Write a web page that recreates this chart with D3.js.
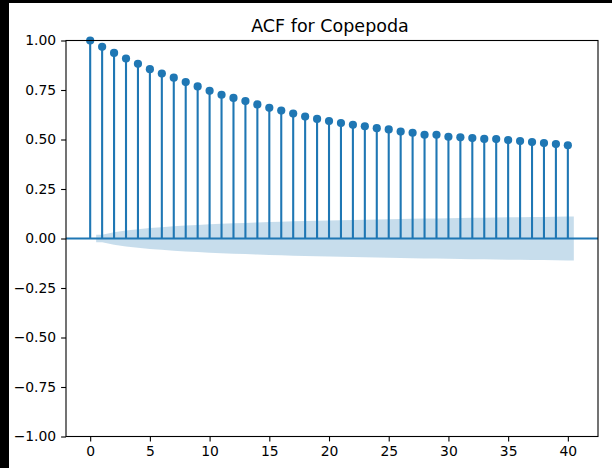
<!DOCTYPE html>
<html>
<head>
<meta charset="utf-8">
<script src="https://cdn.jsdelivr.net/npm/d3@7"></script>
<style>
  html, body { margin: 0; padding: 0; background: #fff; }
  svg { display: block; }
  text { font-family: "DejaVu Sans", sans-serif; fill: #000; }
</style>
</head>
<body>
<svg id="chart" width="612" height="468"></svg>
<script>
// Autocorrelation by lag (0..40)
const lags = d3.range(0, 41);
const acfValues = [
  1.000, 0.968, 0.937, 0.909, 0.882, 0.855, 0.833, 0.812, 0.790, 0.768,
  0.746, 0.726, 0.710, 0.694, 0.677, 0.660, 0.646, 0.631, 0.616, 0.604,
  0.593, 0.583, 0.574, 0.567, 0.557, 0.551, 0.540, 0.534, 0.524, 0.524,
  0.514, 0.511, 0.507, 0.503, 0.502, 0.497, 0.492, 0.487, 0.482, 0.477,
  0.471
];
// 95% confidence half-width for lags 1..40
const bandLags = d3.range(1, 41);
const bandHalfWidth = [
  0.0188, 0.0319, 0.0405, 0.0471, 0.0526, 0.0573, 0.0615, 0.0651, 0.0684, 0.0714,
  0.0741, 0.0766, 0.0789, 0.0810, 0.0830, 0.0848, 0.0866, 0.0882, 0.0897, 0.0911,
  0.0925, 0.0937, 0.0950, 0.0962, 0.0973, 0.0984, 0.0994, 0.1004, 0.1014, 0.1024,
  0.1033, 0.1042, 0.1050, 0.1059, 0.1067, 0.1075, 0.1083, 0.1091, 0.1098, 0.1106
];
const xTicks = [0, 5, 10, 15, 20, 25, 30, 35, 40];
const yTicks = [-1.00, -0.75, -0.50, -0.25, 0.00, 0.25, 0.50, 0.75, 1.00];
const title = "ACF for Copepoda";

const blue = "#1f77b4";
const svg = d3.select("#chart");

// window frame strips
svg.append("rect").attr("x", 0).attr("y", 0).attr("width", 612).attr("height", 468).attr("fill", "#fff");
svg.append("rect").attr("x", 0).attr("y", 0).attr("width", 9).attr("height", 468).attr("fill", "#000");
svg.append("rect").attr("x", 0).attr("y", 0).attr("width", 612).attr("height", 3).attr("fill", "#000");

const plotLeft = 66, plotRight = 598, plotTop = 40.5, plotBottom = 436.5;
const x = d3.scaleLinear().domain([-2.025, 42.525]).range([plotLeft, plotRight]);
const y = d3.scaleLinear().domain([-1, 1]).range([plotBottom, plotTop]);

const plot = svg.append("g");

// confidence band, widened half a lag at each end
const bandPts = bandLags.map((l, i) => ({ x: l, h: bandHalfWidth[i] }));
bandPts.unshift({ x: bandLags[0] - 0.5, h: bandHalfWidth[0] });
bandPts.push({ x: bandLags[bandLags.length - 1] + 0.5, h: bandHalfWidth[bandHalfWidth.length - 1] });
const area = d3.area().x(d => x(d.x)).y0(d => y(-d.h)).y1(d => y(d.h));
plot.append("path").datum(bandPts).attr("d", area)
  .attr("fill", blue).attr("fill-opacity", 0.25).attr("stroke", "none");

// stems
plot.selectAll("line.stem").data(lags).join("line").attr("class", "stem")
  .attr("x1", d => x(d)).attr("x2", d => x(d))
  .attr("y1", y(0)).attr("y2", (d, i) => y(acfValues[i]))
  .attr("stroke", blue).attr("stroke-width", 2.1);

// zero line
plot.append("line").attr("x1", plotLeft).attr("x2", plotRight)
  .attr("y1", y(0)).attr("y2", y(0)).attr("stroke", blue).attr("stroke-width", 2.1);

// markers
plot.selectAll("circle.pt").data(lags).join("circle").attr("class", "pt")
  .attr("cx", d => x(d)).attr("cy", (d, i) => y(acfValues[i]))
  .attr("r", 4.1).attr("fill", blue);

// axes
const fmtY = v => d3.format(".2f")(v).replace("-", "\u2212");
const xAxis = d3.axisBottom(x).tickValues(xTicks).tickSize(4.9).tickPadding(4.9).tickFormat(d3.format("d"));
const yAxis = d3.axisLeft(y).tickValues(yTicks).tickSize(4.9).tickPadding(4.9).tickFormat(fmtY);

const gx = svg.append("g").attr("transform", `translate(0,${plotBottom})`).call(xAxis);
const gy = svg.append("g").attr("transform", `translate(${plotLeft},0)`).call(yAxis);
[gx, gy].forEach(g => {
  g.select(".domain").remove();
  g.selectAll(".tick line").attr("stroke", "#000").attr("stroke-width", 1.1);
  g.selectAll(".tick text").attr("font-size", "13.9px").attr("font-family", "DejaVu Sans").attr("fill", "#000");
});

// frame
svg.append("rect").attr("x", plotLeft).attr("y", plotTop)
  .attr("width", plotRight - plotLeft).attr("height", plotBottom - plotTop)
  .attr("fill", "none").attr("stroke", "#000").attr("stroke-width", 1.1);

// title
svg.append("text").attr("x", 330).attr("y", 31.5).attr("text-anchor", "middle")
  .attr("font-size", "17.5px").text(title);
</script>
</body>
</html>
